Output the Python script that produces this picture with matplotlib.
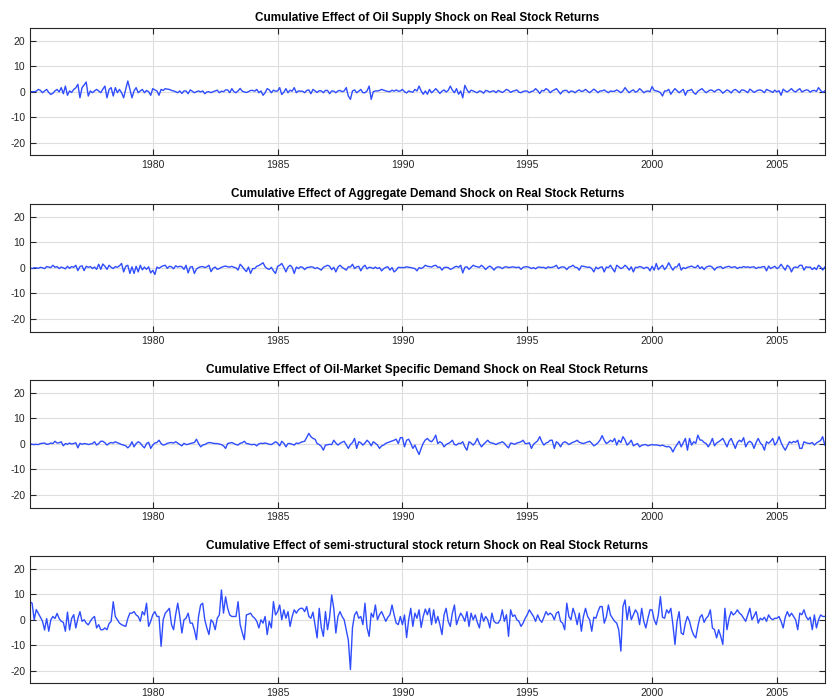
import numpy as np
import matplotlib.pyplot as plt

plt.rcParams['font.family'] = ['Liberation Sans', 'DejaVu Sans']
plt.rcParams['axes.unicode_minus'] = False

titles = [
    'Cumulative Effect of Oil Supply Shock on Real Stock Returns',
    'Cumulative Effect of Aggregate Demand Shock on Real Stock Returns',
    'Cumulative Effect of Oil-Market Specific Demand Shock on Real Stock Returns',
    'Cumulative Effect of semi-structural stock return Shock on Real Stock Returns',
]

# monthly values, 1975:2 - 2006:12 (one row per year)
oil_supply = [
    0, 0, 0, 0.2, 0.9, 0.5, -0.4, 0.3, 0.9, -0.3, -1.1,
    -0.6, 0.3, 0.9, -0.1, 1.6, -0.8, 2.2, -1.4, 0.3, -0.3, 0.9, 1.5,
    2.9, -2.4, 1.6, 2.6, 3.8, -1.7, 0.3, -0.4, 0.3, 0.9, 0.3, -0.4,
    1.0, 2.2, -2.4, 0.9, 1.6, -1.7, 1.6, -0.4, 0.9, -0.4, -2.4, 1.0,
    4.2, 1.0, -2.4, 0.3, 1.6, -0.4, 0.3, 0.9, -0.4, 0.5, 0.0, -1.4,
    1.2, 0.7, 0.3, -1.4, 0.9, 0.5, 1.2, 1.0, 0.9, 0.5, 0.3, 0.0,
    -0.4, 0.3, -0.7, 0.3, 0.3, -0.8, 0.7, 0.2, -0.4, 0.0, 0.3, -0.1,
    0.3, -0.8, -0.1, 0.0, -0.4, 0.0, 0.3, 0.6, -0.4, 0.2, 0.0, 0.7,
    0.7, -0.4, 1.2, 0.0, -0.4, 0.3, 1.3, 0.2, -0.1, -0.3, 0.0, 0.5,
    0.5, 0.2, 0.9, -0.4, 0.3, -1.4, -0.4, 1.2, 0.7, -0.4, 0.6, 0.2,
    0.3, 1.6, -1.1, -0.2, 1.2, -0.4, 0.6, 0.2, 1.6, -0.4, 0.3, 0.2,
    0.2, -0.4, 0.5, 0.7, -0.8, 0.9, 0.3, -0.3, 0.4, 0.3, -0.4, 0.5,
    0.5, -0.8, 0.3, 0.2, -0.4, 0.3, 0.5, 0.0, 0.3, 1.6, -1.7, -3.0,
    0.3, 0.7, -0.4, 0.2, 0.9, -0.4, -0.4, 0.3, 2.2, -3.0, 0.0, 0.3,
    0.3, 0.5, 0.9, 0.6, 0.3, 0.1, 0.0, 0.6, 0.2, 0.7, 0.2, 0.3,
    0.9, 0.0, -0.5, 0.3, 0.0, -0.2, 0.9, 0.3, 2.2, 0.3, -1.0, 0.3,
    -1.0, 0.9, -0.4, 0.3, 1.2, 0.3, -0.7, 0.2, 0.7, -0.1, 0.5, 2.2,
    0.6, -0.4, 1.2, -1.0, 0.3, -2.4, 2.5, 0.8, -0.4, 0.6, 0.3, -0.1,
    -0.4, 0.3, 0.1, -0.6, 0.5, 0.3, -0.2, 0.2, 0.3, -0.4, 0.5, 0.1,
    -0.3, 0.2, 0.9, 0.5, -0.3, 0.2, 0.4, 0.7, -0.2, -0.4, 0.1, 0.3,
    0.2, -0.4, 0.1, 0.3, 1.2, 0.4, -0.7, 0.5, 0.3, 1.2, 0.7, -0.4,
    0.3, 0.7, 1.2, 0.2, -0.9, 0.2, 0.5, 0.5, -0.4, 0.3, 0.1, -0.4,
    0.3, 0.7, 0.1, 0.3, 0.9, 0.2, -0.4, 0.3, 1.0, 0.4, -0.4, 0.3,
    0.3, 0.7, 0.1, -0.4, 0.3, 0.1, 0.2, 0.7, 0.2, -0.4, 0.3, 1.6,
    0.5, -0.4, 0.3, 0.7, -0.2, 0.2, 1.2, 0.5, -0.4, 0.1, 0.3, 0.0,
    2.0, 0.5, 0.3, 0.1, -0.4, -1.7, 0.3, 0.3, 0.9, -1.0, 0.2, 1.2,
    0.4, -0.4, 0.3, 0.9, -1.4, 0.4, 0.5, 0.9, -0.4, -1.0, 0.2, 0.7,
    1.2, 0.3, -0.4, 0.2, 0.7, 0.5, -0.1, 0.6, 0.9, 0.4, -0.6, 0.1,
    0.7, 0.3, -0.5, 0.5, 0.9, 0.3, -0.4, 0.7, 0.6, 0.2, -0.4, 1.0,
    0.4, -0.3, 0.2, 0.6, 0.7, 0.3, -0.4, 0.9, 0.5, 0.2, -0.3, 0.6,
    -0.1, 0.4, -1.4, 1.0, 0.3, -0.1, 0.5, 1.2, 0.3, -0.1, 0.6, 1.2,
    -0.1, 0.3, 0.7, 0.6, -0.2, 0.4, 0.5, 0.1, 1.6, 0.5, -0.3, 0.3,
]

agg_demand = [
    0, -0.3, 0, 0, -0.2, 0.2, 0, -0.3, 0.5, 0.3, 0.1,
    1.0, 0.2, 0.5, -0.3, 0.3, 0, -0.4, 0.6, -0.2, 0.5, 0.2, 1.0,
    -1.1, 0.5, 0.8, -1.1, 0.6, 0.2, 0.5, -0.3, 0.3, -0.6, 1.4, -0.6,
    1.5, 0.6, -0.6, 1.0, 0.2, -0.3, 0.5, 0.2, 0.8, 1.7, -1.6, 0.6,
    1.0, -2.2, 0.4, -2.2, 0.6, -1.6, 1.0, -0.8, 0.3, -0.6, 0.4, -2.0,
    -1.0, -2.6, 0.3, -0.2, 0.4, 0.8, 1.0, -0.2, 0.6, 0.4, -0.4, 0.8,
    0.3, 0.6, 0.4, -0.6, 1.0, -2.0, 0.3, 0.5, -2.2, -0.5, 0.1, 0.4,
    0.5, 0.1, 0.4, 1.0, -1.5, -0.2, 0.3, -0.6, -0.3, 0.2, 0.5, 0.7,
    0.4, 0.3, 0.6, 0.2, 0, -0.9, 1.4, 0.5, -0.6, -1.5, 0.3, -2.2,
    -0.3, -0.3, 0.6, 0.9, 1.4, 2.0, 0.4, -0.3, -0.6, 0.2, -1.2, -2.2,
    0.6, 1.0, 1.7, 0.2, -1.6, 0.3, 1.0, 0.2, -2.2, 0.3, -0.3, 0.4,
    0.2, -0.7, 0.1, 0.2, 0.4, 0.3, -0.3, 0.1, -0.4, -0.9, 0.2, 0.6,
    1.0, 0.6, -0.7, 0.2, -1.6, 0.3, 1.0, 0.2, -0.3, -0.9, 0.4, 0.3,
    1.4, -0.3, 0.4, 0.6, -1.2, 0.3, 1.0, -0.4, 0.2, 0.1, -0.3, 0.3,
    -0.3, 0.1, -1.2, -0.3, 0.2, 0.4, -0.9, 0.1, -1.6, -0.9, 0.2, 0.1,
    0.1, 0.1, 0.4, 0.2, 0.1, -0.1, -0.3, -1.2, 0.1, -0.3, 0.2, 1.0,
    0.6, 0.5, 0.3, 0.8, 1.0, 0.2, 0.3, -0.9, 0.1, 0.2, 0.1, -0.6,
    -0.3, 0.3, 0.6, 0.2, 1.0, -2.0, 0.2, 0.4, -0.6, 0.2, 1.0, 0.6,
    0.4, 0.2, 1.0, 0.3, -0.7, 0.2, 0.7, 0.1, -0.9, 0.1, 0.4, 0.2,
    -0.3, 0.3, 0.4, 0.1, 0.2, 0.4, 0.2, 0.1, 0.3, -0.6, 0.2, 0.4,
    0.4, 0.2, -0.3, 0.1, -0.4, 0.2, 0.3, 0.1, 0.2, -0.3, 0.4, 0.1,
    0.2, 0.5, 1.0, -0.3, 0.2, 0.4, 0.2, -0.7, 0.3, 0.5, 1.0, 0.2,
    0.1, -0.9, 0.7, 0.6, 0.4, 0.2, 0.3, -0.3, -1.6, 0.3, -0.4, 0.2,
    0.4, -1.6, 0.3, 0.1, 1.0, -0.4, -1.6, 1.0, 0.4, -0.3, 0.1, 1.0,
    0.3, -0.9, 0.4, -1.6, 0.2, 0.1, 0.5, 0.3, -0.3, 0.2, 0.1, -1.2,
    0.6, -0.9, 1.7, -0.7, 0.2, 1.0, -0.7, 0.3, 2.0, 0.4, -0.9, 0.3,
    0.4, 1.7, -0.9, 0.1, -0.3, 0.2, 0.4, 0.7, 0.2, 0.1, 1.0, -0.3,
    0.4, -0.7, 0.3, 0.6, 0.7, 0.2, -0.9, 0.1, 0.3, 0.5, -0.3, 0.2,
    0.4, 0.6, 0.1, 0.3, 0.4, -0.3, 0.2, 0.1, 0.5, 0.2, 0.4, 0.1,
    0.3, 0.4, -0.3, 0.2, 0.1, 0.4, 0.5, -1.2, 0.7, -0.3, 0.2, 0.6,
    -0.3, 0.2, 1.4, 0.2, -0.9, 1.0, 0.3, -1.6, 0.1, 0.3, 0.1, 1.0,
    1.0, -0.9, 0.4, 0.2, 0.3, -0.7, 0.1, -0.7, 1.0, 0.3, -0.9, 0.3,
]

oil_specific = [
    0, -0.2, -0.3, -0.2, -0.3, 0.1, 0.2, 0.3, -0.2, -0.1, 0.3,
    0.1, 1.0, 0.3, 0.4, 0.8, -0.8, 0.1, -0.2, 0.3, -0.1, 0.1, 0.4,
    -1.6, 0.2, -0.2, 0.1, 0, -0.3, -0.1, 0.1, 0.8, -0.5, 0.1, 1.0,
    1.0, 0.4, -0.5, 0.2, 0.5, 0.3, 0.8, 0.4, 0.1, -0.3, -0.5, -0.8,
    -1.6, -0.8, 0.8, -1.2, 0.1, 0.8, 0.3, -0.8, -1.6, 0.1, 0.6, -1.8,
    -0.5, 0.3, 0.5, 1.4, 0.1, -0.5, -0.3, 0.2, 0.4, 0.5, 0.3, 0.8,
    0.3, -0.3, -0.8, 0.2, -0.3, -0.2, 0.1, 0.3, 0.5, 1.8, 0.1, -1.2,
    -0.5, -0.3, 0.2, 0.5, 0.4, 0.2, 0.1, 0.1, -0.1, -0.3, -0.8, -1.8,
    0.1, 0.3, 0.5, 0.1, -0.3, -0.5, 0.2, 0.4, 1.0, 0.1, 0, -0.3,
    -0.3, -0.2, -0.8, 0, 0.2, 0.1, 0.3, 0.1, -0.2, -0.3, 0.2, 0.8,
    0.3, -0.8, 1.0, 0.2, -1.2, 0.1, 0.1, -0.2, -0.5, 0.3, 0.1, 0.5,
    0.8, 1.0, 2.5, 4.1, 2.8, 2.1, 1.8, 0.1, -0.3, -1.0, -2.5, -0.5,
    -0.4, -0.2, -0.3, 1.4, 0.3, -0.5, 0.2, 0.6, 1.0, -0.4, -1.8, -0.3,
    0.5, 2.1, -1.8, 0.8, 0.4, -0.5, 0.3, 1.4, 0.6, -0.8, 0.8, 0.2,
    -0.5, -1.8, -0.8, -0.5, 0.2, 0.5, 0.8, 1.1, 1.4, 1.8, 0.1, 2.4,
    2.4, -1.2, 1.4, 1.8, 0.2, -1.8, -0.5, -2.5, -4.2, -1.8, 0.2, 1.5,
    2.1, 1.2, 0.8, 1.8, 3.4, 0.1, 0.8, 0.3, -1.2, -0.3, 0.1, 0.6,
    1.4, -0.3, -0.5, 0.2, 0.1, 0.8, -1.2, -2.5, 0.8, 0.3, -0.5, 0.4,
    2.1, 0.1, -1.2, -0.2, 0.6, 1.4, 0.5, 0.3, 0.1, -0.3, 0.2, 0.4,
    0.8, 0.2, -0.8, -1.6, 0.3, 0.1, -0.2, 0.3, 0.5, 0.8, 1.4, 0.1,
    0.1, 0.4, -1.8, -0.2, 0.5, 1.2, 2.8, 0.8, -0.5, 0.3, 0.6, 1.4,
    1.4, -1.8, 0.8, 0.2, -1.2, 0.3, 0.8, 0.4, -0.3, 0.2, 0.6, 0.9,
    1.4, 0.6, 0.3, 0.1, 0.4, 0.7, 1.0, 0.2, -0.8, -0.3, 0.4, 1.5,
    3.2, 1.4, 0.1, 0.6, 1.4, 0.8, 2.1, -0.5, 1.4, 0.5, 2.8, 1.5,
    -0.5, 0.3, 1.4, -0.8, -0.3, 0.1, -1.2, -0.6, -0.4, -0.3, -0.8, -0.5,
    -0.3, -0.5, -0.4, -0.6, -0.8, -0.5, -0.9, -1.2, -1.0, -1.6, -3.2, -1.5,
    -0.3, 1.0, -1.2, 0.5, 2.1, -2.5, 2.1, -0.5, 0.8, 0.2, 3.4, 1.5,
    1.4, 0.5, 0.1, -1.2, 0.2, 2.1, -0.8, 0.3, 0.8, 1.4, 2.1, 0.5,
    -1.2, 1.0, 2.1, 0.2, -1.8, 0.5, 1.4, 0.8, 2.4, -1.2, 0.4, 1.0,
    0.3, -1.8, 0.5, 2.1, 0.4, -0.5, -2.5, 0.8, 0.2, 1.0, 2.1, -0.5,
    0.6, 2.8, 0.5, -1.2, -2.5, -0.8, 0.8, 0.3, 0.9, 0.6, 1.4, -1.8,
    -1.8, 0.8, 0.4, 0.2, 0.1, 0.5, -0.5, 0.3, 0.8, 1.3, 2.8, -0.5,
]

stock_shock = [
    7.1, 6.5, 0, 4, 2.5, 1, -0.6, -4, 0.5, -4.5, 0,
    1.3, 0.5, 2.5, 0.5, -0.6, -1, -4.5, 3, -4, 0.5, 2, -3.2,
    0.5, 3.2, -0.6, 0, -1.3, -2, -0.6, 0.6, 1.3, -3.2, -1.9, -3.9,
    -3.9, -3.2, -3.9, -1.5, -0.6, 7.1, 1.3, 0, -1.3, -1.9, -2.3, -2.6,
    0.5, 2.6, 2.6, 3.2, 1.9, 1.3, -0.6, 3.2, 1.9, 6.5, -2.6, -0.6,
    2, 3.2, 1.3, 1.3, -10.4, 0, 2.6, 3.5, 4.5, -1.9, -3.9, 2,
    6.5, 1.3, -5.2, 0, 0.6, 2.6, -1.3, -1.3, -4, -7.8, 1.3, 5.8,
    6.5, 0, -3.2, -5.8, 0, -1, -3.9, 0.6, 1.9, 11.7, 2.6, 9,
    4.5, 1.9, 1.3, 1.3, 1.3, 7.1, -1.9, -5, -7.8, 1.9, 2.2, 2.6,
    1.3, 0.6, -0.6, -3.2, 0, -1.3, 1.3, -5.8, -0.6, -3.2, 7.1, 1.9,
    3.2, 5.8, 0, 3.9, 0.6, 3.2, -2.6, 1.3, 3.9, 2.6, 3.9, 4.5,
    4.5, 3.2, 5.2, 1.3, 0.6, 3, -2, -7.1, 4.5, -3, -6.5, 3.2,
    -3.9, 1, 9.7, 4.5, -5.2, 1.3, 3.2, 1.3, 0, -3.9, -8, -19.5,
    -3, 1.9, 3.2, 0.6, 1.3, -1.9, 6.5, -3.2, -6.5, 2.6, 1, 5.8,
    0, 2, 3.2, 1.3, -0.6, 1, 2, 5.8, 2, -1.3, -1.9, 1.3,
    -1.9, 1.9, -7, 0, 4.5, -2.6, 2.6, 0.6, 3.9, -3, 1.3, 4.2,
    2, 4.5, -1.9, 3.9, -1.3, 1.3, -1.9, -5.8, 1.9, 4.5, -0.6, -2.6,
    2.6, 5.8, -1.9, 0.6, 2.6, 1.3, -0.6, 3.2, -2.6, 2.6, 0, 1.9,
    -1, -3.2, 2.6, -0.6, 1.3, 0, -3.2, 2.6, -0.6, -1.3, -1.3, 0,
    3.9, -0.6, 2, -6.5, 3.9, 1.3, 1.9, 0, -0.6, -2.6, -1.3, 0.6,
    2, 3.9, 2.6, 1.3, -0.6, 1.9, 0, -1, 1, 3.2, 1.9, 2.6,
    1.9, 0, 2.6, 3.2, -0.6, -1.3, -3.9, 6.5, 1.3, 0, 4.5, 2,
    -1.9, 2.6, -4.5, 1.3, 4.5, 1.3, 0, -4.5, 1, 0.6, 3.2, 5.2,
    5.2, -1.3, 1, 5.8, 1.9, 0.6, -0.6, -1.3, -4, -12.3, 5.2, 7.8,
    0, 5.2, 0, 2, 3.9, 2.6, -1.9, 4.5, -0.6, -3.2, 0.6, 3.9,
    3.9, 0, -1.9, 2, 9.1, 1, 0.6, 3.9, 2.6, 4.5, -1.9, -9.7,
    -0.6, 3.2, -5.2, -5.8, -1.3, 1.3, -0.6, -3.9, -6, -7.1, -2.6, 1,
    2, -1, 0.6, 1.5, 3.9, -3.2, -3.9, -7.1, -3.9, -6.5, -9.7, 4.5,
    -3.9, 0.6, 3.2, 1.9, 2.6, 3.9, 2.6, 1.9, 0.6, -0.6, 2, 4.5,
    0, 1.5, 3.2, -1.3, 0.6, 0, 1, -0.6, 1.9, 0.6, 0, 0.6,
    0.6, 1.3, -0.6, -3.2, 1, 3.2, 1.3, 2.6, 1.3, 0, -3.9, 2.6,
    2, 3.9, 1.3, 0, 1, -3.9, 1.9, -3.2, 0, 1.9, 1.3, 1.3,
]

series = [oil_supply, agg_demand, oil_specific, stock_shock]
for s in series:
    assert len(s) == 383, len(s)

dates = 1975 + np.arange(1, 384) / 12

fig = plt.figure(figsize=(8.27, 7.0), dpi=100)
bottoms = [0.778, 0.5264, 0.275, 0.0236]

for title, values, bottom in zip(titles, series, bottoms):
    ax = fig.add_axes([0.0363, bottom, 0.961, 0.182])
    ax.plot(dates, values, color='#2f4dff', lw=1.0)
    ax.set_xlim(dates[0], dates[-1])
    ax.set_ylim(-25, 25)
    ax.set_xticks([1980, 1985, 1990, 1995, 2000, 2005])
    ax.set_yticks([-20, -10, 0, 10, 20])
    ax.grid(True, color='#dedede', lw=0.8)
    ax.set_axisbelow(True)
    ax.tick_params(direction='in', top=True, right=True, length=4,
                   labelsize=7.5, colors='#262626', width=0.8)
    for sp in ax.spines.values():
        sp.set_color('#262626')
        sp.set_linewidth(0.8)
    ax.set_title(title, fontsize=8.5, fontweight='bold', pad=5)

fig.savefig('out.png', dpi=100)
